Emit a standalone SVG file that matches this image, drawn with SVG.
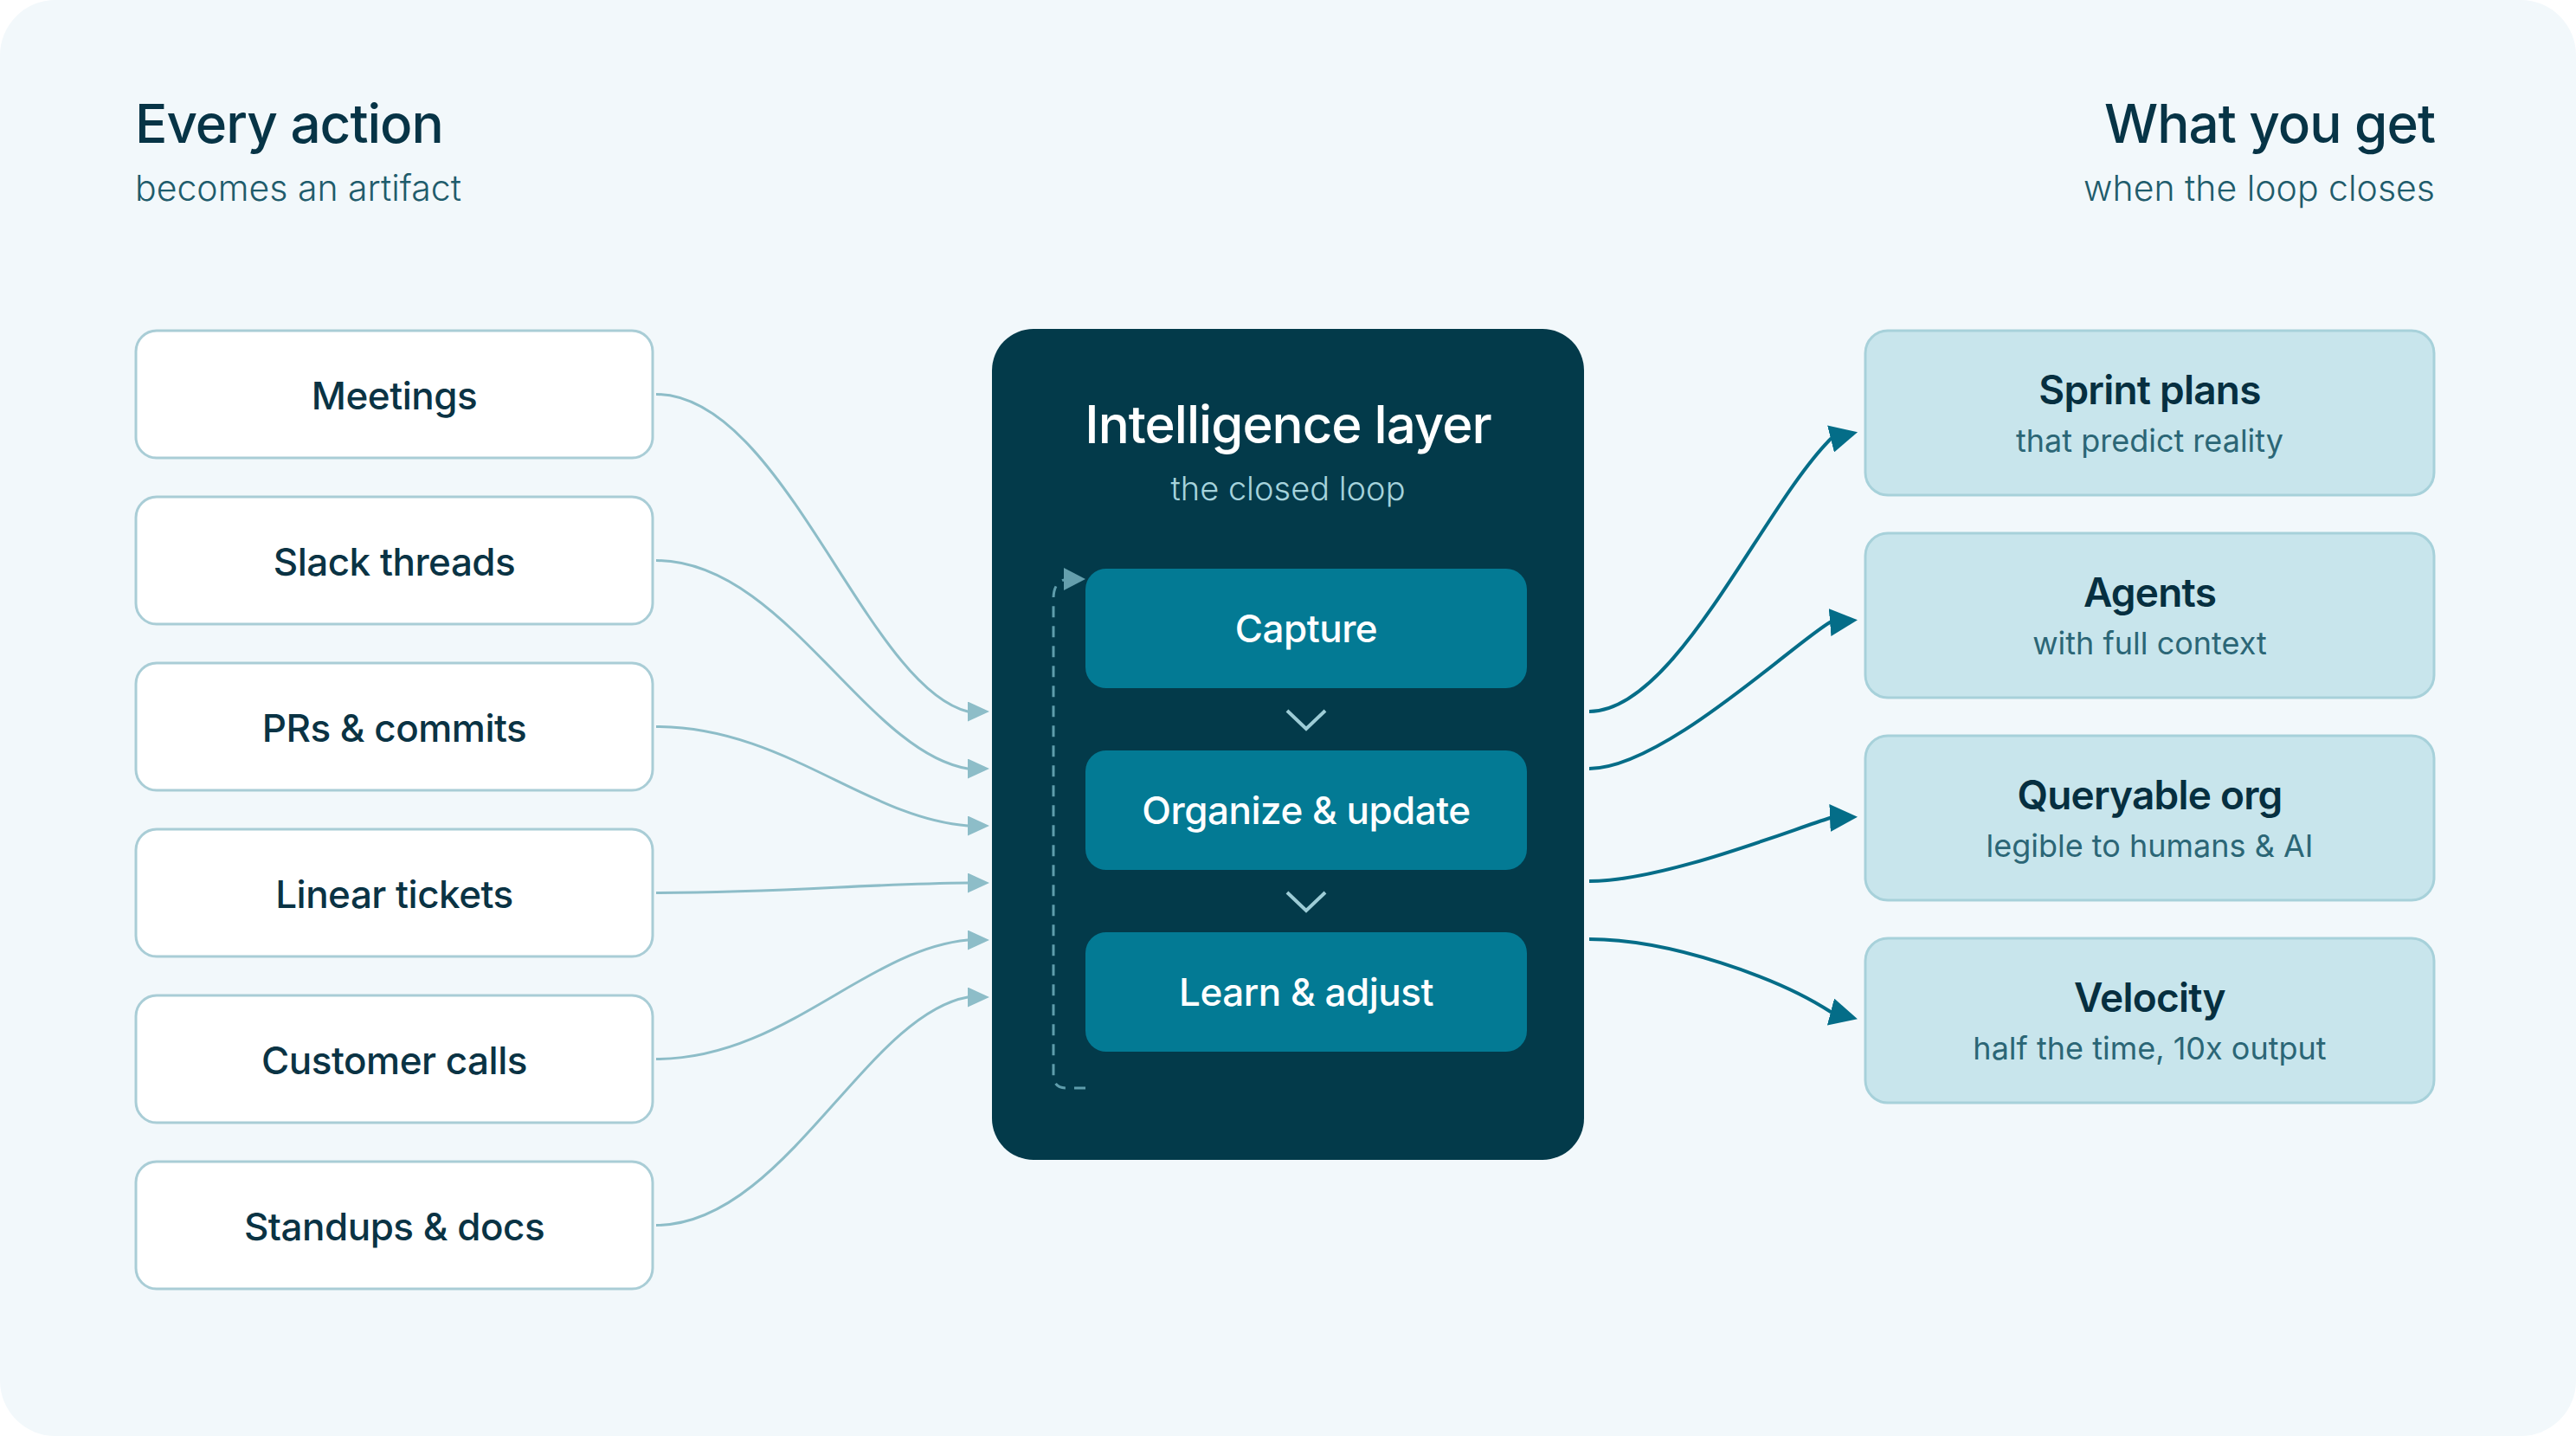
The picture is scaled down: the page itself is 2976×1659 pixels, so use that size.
<svg xmlns="http://www.w3.org/2000/svg" width="2976" height="1659" viewBox="0 0 2976 1659">
<style>
text{font-family:Inter,"Noto Sans","Liberation Sans",sans-serif}
.h1{font-size:62px;font-weight:500;fill:#073446;letter-spacing:-1px}
.h2{font-size:41px;font-weight:300;fill:#1f5c6c}
.src rect{fill:#ffffff;stroke:#a9cdd6;stroke-width:3}
.src text{font-size:44px;font-weight:500;fill:#0a3344;text-anchor:middle;letter-spacing:-0.5px}
.step rect{fill:#037a94}
.step text{font-size:44px;font-weight:500;fill:#ffffff;text-anchor:middle;letter-spacing:-0.5px}
.out rect{fill:#c8e5ec;stroke:#a7d1da;stroke-width:3}
.out .t{font-size:46px;font-weight:600;fill:#062f40;text-anchor:middle;letter-spacing:-0.8px}
.out .s{font-size:36px;font-weight:400;fill:#2b6676;text-anchor:middle}
.in{fill:none;stroke:#8dbdc8;stroke-width:3}
.outc{fill:none;stroke:#056d88;stroke-width:4}
.chev{fill:none;stroke:#9dccd6;stroke-width:4}
</style>
<defs>
<marker id="ah-in" markerUnits="userSpaceOnUse" markerWidth="25" markerHeight="23" refX="19" refY="11.5" orient="auto"><path d="M0,0 L25,11.5 L0,23 Z" fill="#8dbdc8"/></marker>
<marker id="ah-out" markerUnits="userSpaceOnUse" markerWidth="32" markerHeight="32" refX="24" refY="16" orient="auto"><path d="M0,0 L32,16 L0,32 Z" fill="#046d88"/></marker>
<marker id="ah-loop" markerUnits="userSpaceOnUse" markerWidth="25" markerHeight="26" refX="19" refY="13" orient="auto"><path d="M0,0 L25,13 L0,26 Z" fill="#659fad"/></marker>
</defs>
<rect x="0" y="0" width="2976" height="1659" fill="#ffffff"/>
<rect x="0" y="0" width="2976" height="1659" rx="64" fill="#f2f8fb"/>

<g id="header-left">
<text class="h1" x="156" y="165">Every action</text>
<text class="h2" x="156" y="232">becomes an artifact</text>
</g>
<g id="header-right">
<text class="h1" x="2813" y="165" text-anchor="end">What you get</text>
<text class="h2" x="2813" y="232" text-anchor="end">when the loop closes</text>
</g>

<g id="connectors">
<path class="in" d="M758,455.5 C905,455.5 1000,792.6 1118,822 L1137,822" marker-end="url(#ah-in)"/>
<path class="in" d="M758,647.5 C905,647.5 1000,868.8 1118,888 L1137,888" marker-end="url(#ah-in)"/>
<path class="in" d="M758,839.5 C905,839.5 1000,944.8 1118,954 L1137,954" marker-end="url(#ah-in)"/>
<path class="in" d="M758,1031.5 C905,1031.5 1000,1020.9 1118,1020 L1137,1020" marker-end="url(#ah-in)"/>
<path class="in" d="M758,1223.5 C905,1223.5 1000,1097 1118,1086 L1137,1086" marker-end="url(#ah-in)"/>
<path class="in" d="M758,1415.5 C905,1415.5 1000,1173 1118,1152 L1137,1152" marker-end="url(#ah-in)"/>
<path class="outc" d="M1836,822 C1936,822 2035,587 2115,507 L2138.3,501.1" marker-end="url(#ah-out)"/>
<path class="outc" d="M1836,888 C1920,888 2070,745 2114,719 L2138,717" marker-end="url(#ah-out)"/>
<path class="outc" d="M1836,1018 C1920,1018 2060,962 2114,945 L2138,944" marker-end="url(#ah-out)"/>
<path class="outc" d="M1836,1085 C1930,1085 2055,1130 2115,1169 L2138.2,1175.1" marker-end="url(#ah-out)"/>
</g>

<g id="src-meetings" class="src"><rect x="157" y="382" width="597" height="147" rx="24"/><text x="455.5" y="473">Meetings</text></g>
<g id="src-slack" class="src"><rect x="157" y="574" width="597" height="147" rx="24"/><text x="455.5" y="665">Slack threads</text></g>
<g id="src-prs" class="src"><rect x="157" y="766" width="597" height="147" rx="24"/><text x="455.5" y="857">PRs &amp; commits</text></g>
<g id="src-linear" class="src"><rect x="157" y="958" width="597" height="147" rx="24"/><text x="455.5" y="1049">Linear tickets</text></g>
<g id="src-calls" class="src"><rect x="157" y="1150" width="597" height="147" rx="24"/><text x="455.5" y="1241">Customer calls</text></g>
<g id="src-standups" class="src"><rect x="157" y="1342" width="597" height="147" rx="24"/><text x="455.5" y="1433">Standups &amp; docs</text></g>

<g id="intelligence-layer">
<rect x="1146" y="380" width="684" height="960" rx="48" fill="#033a4a"/>
<text x="1488" y="512" text-anchor="middle" font-size="60" font-weight="500" fill="#ffffff" letter-spacing="-1">Intelligence layer</text>
<text x="1488" y="578" text-anchor="middle" font-size="38" font-weight="300" fill="#a6d3dc">the closed loop</text>
<path d="M1254,1257 L1232,1257 Q1217,1257 1217,1242 L1217,692 Q1217,669 1236,669 L1248,669" fill="none" stroke="#5f9dac" stroke-width="3" stroke-dasharray="13 10" marker-end="url(#ah-loop)"/>
<polyline class="chev" points="1487,821 1509,842 1531,821"/>
<polyline class="chev" points="1487,1031 1509,1052 1531,1031"/>
</g>
<g id="step-capture" class="step"><rect x="1254" y="657" width="510" height="138" rx="24"/><text x="1509" y="742">Capture</text></g>
<g id="step-organize" class="step"><rect x="1254" y="867" width="510" height="138" rx="24"/><text x="1509" y="952">Organize &amp; update</text></g>
<g id="step-learn" class="step"><rect x="1254" y="1077" width="510" height="138" rx="24"/><text x="1509" y="1162">Learn &amp; adjust</text></g>

<g id="out-sprint" class="out"><rect x="2155" y="382" width="657" height="190" rx="26"/><text class="t" x="2483.5" y="467">Sprint plans</text><text class="s" x="2483.5" y="522">that predict reality</text></g>
<g id="out-agents" class="out"><rect x="2155" y="616" width="657" height="190" rx="26"/><text class="t" x="2483.5" y="701">Agents</text><text class="s" x="2483.5" y="756">with full context</text></g>
<g id="out-query" class="out"><rect x="2155" y="850" width="657" height="190" rx="26"/><text class="t" x="2483.5" y="935">Queryable org</text><text class="s" x="2483.5" y="990">legible to humans &amp; AI</text></g>
<g id="out-velocity" class="out"><rect x="2155" y="1084" width="657" height="190" rx="26"/><text class="t" x="2483.5" y="1169">Velocity</text><text class="s" x="2483.5" y="1224">half the time, 10x output</text></g>
</svg>
